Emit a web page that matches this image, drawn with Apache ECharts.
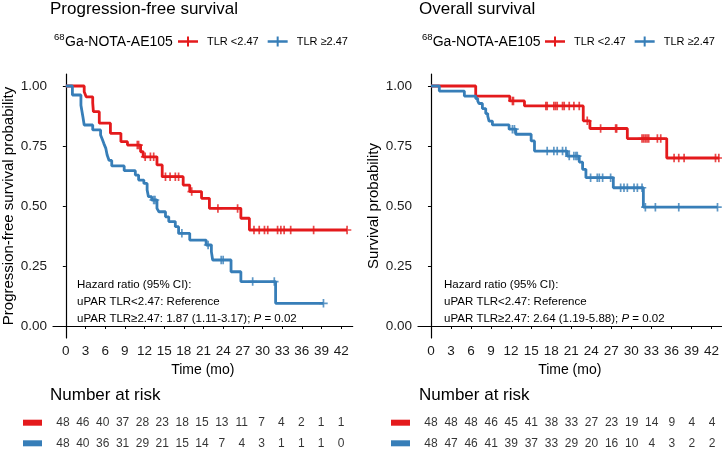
<!DOCTYPE html>
<html><head><meta charset="utf-8">
<script src="https://cdn.jsdelivr.net/npm/echarts@6/dist/echarts.min.js"></script>
<style>html,body{margin:0;padding:0;background:#fff}#c{width:722px;height:456px}</style>
</head><body><div id="c"></div>
<script>
// ---------- data ----------
const groupNames = ['TLR <2.47', 'TLR \u22652.47'];
const timeTicks = [0, 3, 6, 9, 12, 15, 18, 21, 24, 27, 30, 33, 36, 39, 42];
const survTicks = [0, 0.25, 0.5, 0.75, 1];

// Progression-free survival, TLR < 2.47
const pfsLowTimes = [0, 2.8, 3.1, 4.1, 4.2, 5.1, 6.8, 8.4, 9.4, 11.4, 11.8, 13.9, 14.7, 17.9, 18.9, 20.7, 21.9, 26.7, 28.0];
const pfsLowSurv  = [1, 0.976, 0.955, 0.93, 0.893, 0.845, 0.803, 0.768, 0.754, 0.726, 0.705, 0.671, 0.622, 0.587, 0.56, 0.532, 0.49, 0.449, 0.40];
const pfsLowCensor = [10.9, 11.1, 12.1, 12.9, 13.4, 15.2, 15.9, 16.7, 17.2, 19.2, 23.2, 26.2, 28.7, 29.5, 30.3, 30.8, 32.3, 32.8, 33.3, 34.3, 37.8, 42.9];
// Progression-free survival, TLR >= 2.47
const pfsHighTimes = [0, 1.0, 2.3, 2.6, 2.8, 4.1, 5.3, 5.6, 5.8, 6.1, 6.3, 6.6, 7.0, 8.9, 10.6, 11.1, 11.9, 12.4, 12.6, 13.1, 13.9, 14.2, 15.2, 15.7, 16.7, 17.2, 18.9, 21.4, 22.2, 22.4, 25.2, 26.7, 32.0];
const pfsHighSurv  = [1, 0.9625, 0.92, 0.872, 0.8375, 0.817, 0.796, 0.775, 0.76, 0.74, 0.7125, 0.69, 0.667, 0.647, 0.629, 0.608, 0.594, 0.567, 0.539, 0.525, 0.49, 0.476, 0.455, 0.435, 0.414, 0.386, 0.358, 0.3375, 0.31, 0.275, 0.226, 0.185, 0.0945];
const pfsHighCensor = [13.4, 13.6, 17.7, 21.7, 23.7, 24.0, 28.5, 31.8, 39.3];

// Overall survival, TLR < 2.47
const osLowTimes = [0, 6.7, 11.8, 14.0, 22.8, 23.8, 29.4, 35.3];
const osLowSurv  = [1, 0.958, 0.938, 0.917, 0.855, 0.823, 0.781, 0.70];
const osLowCensor = [12.2, 12.35, 17.2, 17.4, 18.4, 18.65, 18.9, 19.7, 19.95, 20.7, 21.4, 22.2, 23.4, 25.4, 27.65, 27.8, 31.6, 31.85, 32.1, 32.35, 32.6, 33.9, 34.4, 36.4, 37.1, 37.9, 42.6, 43.1];
// Overall survival, TLR >= 2.47
const osHighTimes = [0, 1.25, 5.0, 6.7, 7.0, 7.2, 7.7, 8.2, 8.5, 8.7, 9.2, 11.7, 12.7, 15.0, 15.5, 20.4, 22.2, 22.7, 23.2, 27.3, 31.8];
const osHighSurv  = [1, 0.979, 0.958, 0.948, 0.938, 0.927, 0.906, 0.885, 0.875, 0.854, 0.838, 0.82, 0.799, 0.771, 0.729, 0.708, 0.683, 0.653, 0.618, 0.576, 0.495];
const osHighCensor = [12.2, 12.5, 17.4, 18.4, 18.9, 19.7, 20.2, 20.7, 21.4, 21.7, 21.9, 23.9, 24.9, 25.2, 25.7, 26.9, 28.4, 28.9, 29.4, 30.4, 30.9, 31.6, 32.1, 33.6, 37.1, 42.9];

// Number at risk
const pfsRiskLow  = [48, 46, 40, 37, 28, 23, 18, 15, 13, 11, 7, 4, 2, 1, 1];
const pfsRiskHigh = [48, 40, 36, 31, 29, 21, 15, 14, 7, 4, 3, 1, 1, 1, 0];
const osRiskLow   = [48, 48, 48, 46, 45, 41, 38, 33, 27, 23, 19, 14, 9, 4, 4];
const osRiskHigh  = [48, 47, 46, 41, 39, 37, 33, 29, 20, 16, 10, 4, 3, 2, 2];

// ---------- chart ----------
const colors = ['#E41A1C', '#377EB8'];
const FONT = '"Liberation Sans", Arial, Helvetica, sans-serif';
const plusPath = 'path://M0,4h10v2h-10z M4,0h2v10h-2z';
const legendIcon = 'path://M0,3.75h20v2.5h-20z M9,0h2v10h-2z';

function stepAt(times, surv, t) {
  let s = surv[0];
  for (let i = 0; i < times.length; i++) if (times[i] <= t) s = surv[i];
  return s;
}
function curve(times, surv, censor) {
  const d = times.map((t, i) => [t, surv[i]]);
  const end = Math.max(times[times.length - 1], censor.length ? censor[censor.length - 1] : 0);
  d.push([end, surv[surv.length - 1]]);
  return d;
}

const panels = [
  { left: 50, width: 302.7, min: -1.96, max: 43.76, yName: 'Progression-free survival probability',
    groups: [[pfsLowTimes, pfsLowSurv, pfsLowCensor, pfsRiskLow], [pfsHighTimes, pfsHighSurv, pfsHighCensor, pfsRiskHigh]] },
  { left: 418, width: 304, min: -1.94, max: 43.5, yName: 'Survival probability',
    groups: [[osLowTimes, osLowSurv, osLowCensor, osRiskLow], [osHighTimes, osHighSurv, osHighCensor, osRiskHigh]] }
];

const grid = [], xAxis = [], yAxis = [], series = [];
const axisLine = { show: true, lineStyle: { color: '#000', width: 1.2 } };
panels.forEach((p, g) => {
  grid.push({ left: p.left, width: p.width, top: 74, height: 264 });
  xAxis.push({ type: 'value', gridIndex: g, min: p.min, max: p.max,
    axisLine, splitLine: { show: false },
    axisTick: { show: true, length: 3, lineStyle: { color: '#000' }, customValues: timeTicks },
    axisLabel: { customValues: timeTicks, color: '#1a1a1a', fontSize: 13.5, fontFamily: FONT, margin: 6 },
    name: 'Time (mo)', nameLocation: 'middle', nameGap: 20,
    nameTextStyle: { color: '#000', fontSize: 14, fontFamily: FONT } });
  yAxis.push({ type: 'value', gridIndex: g, min: -0.05, max: 1.05,
    axisLine, splitLine: { show: false },
    axisTick: { show: true, length: 3, lineStyle: { color: '#000' }, customValues: survTicks },
    axisLabel: { customValues: survTicks, formatter: v => v.toFixed(2), color: '#1a1a1a', fontSize: 13.5, fontFamily: FONT, margin: 6 },
    name: p.yName, nameLocation: 'middle', nameGap: 37,
    nameTextStyle: { color: '#000', fontSize: 15, fontFamily: FONT } });
  p.groups.forEach((gr, k) => {
    const [times, surv, censor] = gr;
    series.push({ name: groupNames[k], type: 'line', xAxisIndex: g, yAxisIndex: g, step: 'end',
      showSymbol: false, symbol: 'none', data: curve(times, surv, censor),
      lineStyle: { color: colors[k], width: 2.8 }, itemStyle: { color: colors[k] }, z: 2 });
    series.push({ name: groupNames[k], type: 'scatter', xAxisIndex: g, yAxisIndex: g,
      symbol: plusPath, symbolSize: 8.5, data: censor.map(t => [t, stepAt(times, surv, t)]),
      itemStyle: { color: colors[k] }, z: 3 });
  });
});
// risk table grids
panels.forEach((p, g) => {
  const gi = 2 + g;
  grid.push({ left: p.left, width: p.width, top: 412.4, height: 41.2 });
  xAxis.push({ type: 'value', gridIndex: gi, min: p.min, max: p.max, show: false });
  yAxis.push({ type: 'category', gridIndex: gi, data: groupNames, inverse: true, show: false });
  p.groups.forEach((gr, k) => {
    const risk = gr[3];
    series.push({ name: 'risk' + g + k, type: 'scatter', xAxisIndex: gi, yAxisIndex: gi,
      symbolSize: 1, itemStyle: { color: 'rgba(0,0,0,0)' },
      data: timeTicks.map((t, i) => [t, groupNames[k], risk[i]]),
      label: { show: true, position: 'inside', formatter: q => String(q.value[2]),
        color: '#000', fontSize: 12, fontFamily: FONT } });
  });
});

const legendData = groupNames.map((n, k) => ({ name: n, icon: legendIcon, itemStyle: { color: colors[k] } }));
const legend = [178, 545].map(l => ({ left: l, top: 36, padding: 0, itemWidth: 20, itemHeight: 10, itemGap: 9,
  data: legendData, selectedMode: false,
  textStyle: { fontSize: 11, fontFamily: FONT, color: '#000', padding: [0, 0, 0, 4] } }));

const title = [
  { text: 'Progression-free survival', left: 50, top: 1, padding: 0, textStyle: { fontSize: 17, fontWeight: 'normal', color: '#000', fontFamily: FONT } },
  { text: 'Overall survival', left: 419, top: 1, padding: 0, textStyle: { fontSize: 17, fontWeight: 'normal', color: '#000', fontFamily: FONT } }
];

function txt(x, y, text, size, extra) {
  return Object.assign({ type: 'text', x: x, y: y,
    style: { text: text, fill: '#000', font: size + 'px ' + FONT, verticalAlign: 'middle' } }, extra || {});
}
const hr = [
  ['Hazard ratio (95% CI):', 'uPAR TLR<2.47: Reference', 'uPAR TLR\u22652.47: 1.87 (1.11-3.17); ', '0.02'],
  ['Hazard ratio (95% CI):', 'uPAR TLR<2.47: Reference', 'uPAR TLR\u22652.47: 2.64 (1.19-5.88); ', '0.02']
];
const graphic = [];
[[54, 65, 50, 23, 77], [422, 432.7, 419, 391, 444]].forEach((pos, g) => {
  graphic.push(txt(pos[0], 37, '68', 9.5));
  graphic.push(txt(pos[1], 42, 'Ga-NOTA-AE105', 14));
  graphic.push(txt(pos[2], 395, 'Number at risk', 17));
  graphic.push({ type: 'rect', shape: { x: pos[3], y: 419.7, width: 19, height: 6 }, style: { fill: colors[0] } });
  graphic.push({ type: 'rect', shape: { x: pos[3], y: 440.3, width: 19, height: 6 }, style: { fill: colors[1] } });
  const h = hr[g];
  graphic.push({ type: 'text', x: pos[4], y: 276.5, style: {
    text: h[0] + '\n' + h[1] + '\n' + h[2] + '{i|P} = ' + h[3],
    fill: '#000', fontSize: 11.5, fontFamily: FONT, lineHeight: 17,
    rich: { i: { fontStyle: 'italic', fontSize: 11.5, fontFamily: FONT, fill: '#000', lineHeight: 17 } } } });
});

const chart = echarts.init(document.getElementById('c'), null, { renderer: 'canvas' });
chart.setOption({ animation: false, backgroundColor: '#fff', title, legend, grid, xAxis, yAxis, series, graphic });
</script></body></html>
